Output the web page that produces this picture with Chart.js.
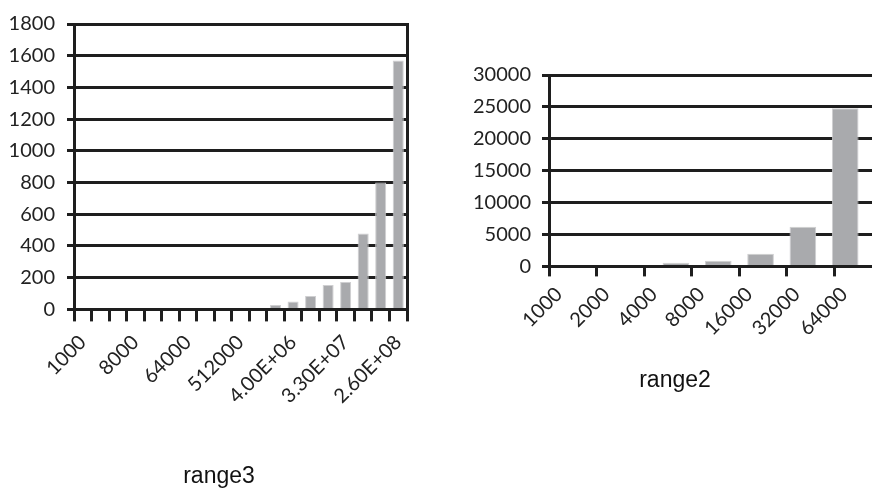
<!DOCTYPE html>
<html>
<head>
<meta charset="utf-8">
<script src="https://cdn.jsdelivr.net/npm/chart.js@4"></script>
<style>
  html, body { margin: 0; padding: 0; background: #fff; overflow: hidden; width: 872px; height: 489px; }
  .box { position: absolute; top: 0; }
</style>
</head>
<body>
<div class="box" style="left:0;width:438px;height:495px"><canvas id="range3"></canvas></div>
<div class="box" style="left:440px;width:470px;height:410px"><canvas id="range2"></canvas></div>
<script>
// left chart (range3)
var range3Sizes = [1000, 2000, 4000, 8000, 16000, 32000, 64000, 128000, 256000, 512000,
    1024000, 2048000, 4096000, 8192000, 16384000, 32768000, 65536000, 131072000, 262144000];
var range3Ticks = ['1000', '', '', '8000', '', '', '64000', '', '', '512000',
    '', '', '4.00E+06', '', '', '3.30E+07', '', '', '2.60E+08'];
var range3Values = [0, 0, 0, 0, 0, 0, 0, 0, 0, 0, 0, 27, 50, 84, 154, 173, 478, 800, 1570];

// right chart (range2)
var range2Sizes = [1000, 2000, 4000, 8000, 16000, 32000, 64000];
var range2Ticks = ['1000', '2000', '4000', '8000', '16000', '32000', '64000'];
var range2Values = [0, 0, 560, 900, 2000, 6200, 24800];

var ink = '#1e1e1e';
var barFill = '#a9aaad';
var tickFont = { family: 'Lato', size: 20 };

function makeChart(id, sizes, ticks, values, opts) {
    var ctx = document.getElementById(id).getContext('2d');
    var scales = {
        x: {
            offset: true,
            grid: { offset: true, drawOnChartArea: false, drawTicks: true, tickLength: opts.tickLen, color: ink, lineWidth: 3 },
            border: { display: true, color: ink, width: 3 },
            ticks: {
                autoSkip: false,
                maxRotation: 45,
                minRotation: 45,
                padding: opts.labelPad,
                labelOffset: opts.labelShift,
                color: '#222',
                font: tickFont,
                callback: function (v, i) { return ticks[i]; }
            },
            afterFit: function (s) { s.height = 100; }
        },
        y: {
            min: 0,
            max: opts.max,
            grid: { color: ink, lineWidth: 3, tickLength: 7 },
            border: { display: true, color: ink, width: 3 },
            ticks: { stepSize: opts.step, padding: opts.yPad, color: '#222', font: tickFont,
                callback: function (v) { return String(v); } },
            afterFit: function (s) { s.width = opts.left; }
        },
        yr: {
            // right frame line, its empty width keeps the caption centred like the original
            position: 'right',
            min: 0,
            max: opts.max,
            grid: { drawOnChartArea: false, drawTicks: false },
            border: { display: true, color: ink, width: 3 },
            ticks: { display: false },
            afterFit: function (s) { s.width = opts.right; }
        }
    };
    var points = values;
    var axisId = 'x';
    if (opts.barRange) {
        // bars of this chart sit on their own spacing, not on the tick marks
        axisId = 'xb';
        points = values.map(function (v, i) { return { x: i, y: v }; });
        scales.xb = { type: 'linear', display: false, offset: false, min: opts.barRange[0], max: opts.barRange[1] };
    }
    return new Chart(ctx, {
        type: 'bar',
        data: {
            labels: sizes,
            datasets: [{
                label: id,
                data: points,
                xAxisID: axisId,
                backgroundColor: barFill,
                borderColor: '#cfcfd1',
                borderWidth: 1,
                barPercentage: 1,
                categoryPercentage: opts.barPart
            }]
        },
        options: {
            responsive: true,
            maintainAspectRatio: false,
            animation: false,
            layout: { padding: { top: opts.top, right: 0, left: 0, bottom: 0 } },
            plugins: {
                legend: { display: false },
                tooltip: { enabled: false },
                title: {
                    display: true,
                    text: id,
                    position: 'bottom',
                    color: '#111',
                    font: { family: 'Liberation Sans', size: 23, weight: 'normal' },
                    padding: { top: opts.titleTop, bottom: opts.titleBottom }
                }
            },
            scales: scales
        }
    });
}

makeChart('range3', range3Sizes, range3Ticks, range3Values,
    { max: 1800, step: 200, top: 22, right: 31, left: 74, yPad: 12, barPart: 0.63,
      tickLen: 12, labelPad: 9, labelShift: 0, titleTop: 53, titleBottom: 5 });
makeChart('range2', range2Sizes, range2Ticks, range2Values,
    { max: 30000, step: 5000, top: 75, right: 28, left: 109, yPad: 11, barPart: 0.63,
      tickLen: 10, labelPad: 6, labelShift: -14, barRange: [-1, 6.87], titleTop: 0, titleBottom: 16 });
</script>
</body>
</html>
